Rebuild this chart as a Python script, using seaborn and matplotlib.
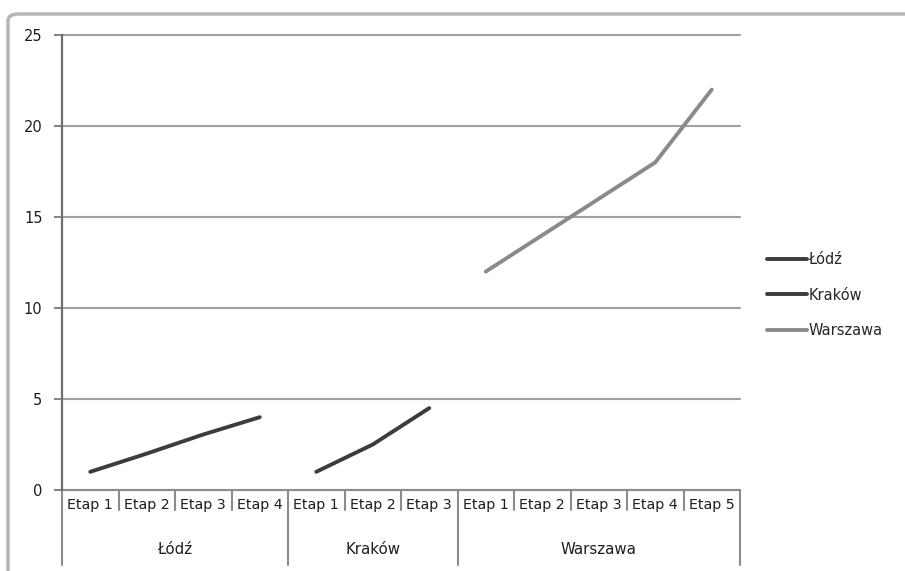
import pandas as pd
import seaborn as sns
import matplotlib.pyplot as plt
from matplotlib.patches import FancyBboxPatch
from matplotlib.transforms import blended_transform_factory

sns.set_theme(style="white")
plt.rcParams["font.family"] = ["DejaVu Sans"]

# --- data ---
cities = ["Łódź", "Kraków", "Warszawa"]
stages = {
    "Łódź": ["Etap 1", "Etap 2", "Etap 3", "Etap 4"],
    "Kraków": ["Etap 1", "Etap 2", "Etap 3"],
    "Warszawa": ["Etap 1", "Etap 2", "Etap 3", "Etap 4", "Etap 5"],
}
lodz_vals = [1, 2, 3.05, 4]
krakow_vals = [1, 2.5, 4.5]
warszawa_vals = [12, 14, 16, 18, 22]
y_ticks = [0, 5, 10, 15, 20, 25]

values = {"Łódź": lodz_vals, "Kraków": krakow_vals, "Warszawa": warszawa_vals}
colors = {"Łódź": "#3c3c3c", "Kraków": "#3c3c3c", "Warszawa": "#8a8a8a"}
text_col = "#1e1e1e"

rows = []
pos = 0
group_edges = [-0.5]
for city in cities:
    for stage, v in zip(stages[city], values[city]):
        rows.append({"pos": pos, "stage": stage, "city": city, "value": v})
        pos += 1
    group_edges.append(pos - 0.5)
df = pd.DataFrame(rows)

fig = plt.figure(figsize=(9.05, 5.71), dpi=100)
ax = fig.add_axes([62 / 905, 1 - 490 / 571, 678 / 905, 455 / 571])

sns.lineplot(data=df, x="pos", y="value", hue="city", palette=colors,
             linewidth=2.8, ax=ax, legend=False)

ax.set_xlim(-0.5, len(df) - 0.5)
ax.set_ylim(0, 25)
ax.set_yticks(y_ticks)
ax.set_yticklabels([str(t) for t in y_ticks], fontsize=10.5, color=text_col)
ax.set_xticks([])
ax.set_xlabel("")
ax.set_ylabel("")
ax.grid(axis="y", color="#a0a0a0", linewidth=1.5)
for gl in ax.get_ygridlines():
    gl.set_clip_on(False)
ax.set_axisbelow(True)
for side in ["top", "right", "bottom"]:
    ax.spines[side].set_visible(False)
ax.spines["left"].set_color("#6e6e6e")
ax.spines["left"].set_linewidth(1.6)
ax.tick_params(axis="y", which="major", left=True, length=6, width=1.2,
               color="#6e6e6e", pad=8)

# --- multi-level category axis ---
trans = blended_transform_factory(ax.transData, ax.transAxes)
sep_col = "#8c8c8c"
for i, r in df.iterrows():
    ax.text(r["pos"], -0.032, r["stage"], transform=trans, ha="center",
            va="center", fontsize=10.3, color=text_col)
for k in range(len(df) + 1):
    x = k - 0.5
    bottom = -0.165 if x in group_edges else -0.045
    ax.plot([x, x], [0, bottom], transform=trans, color=sep_col,
            linewidth=1.5, clip_on=False)
for city, a, b in zip(cities, group_edges[:-1], group_edges[1:]):
    ax.text((a + b) / 2, -0.13, city, transform=trans, ha="center",
            va="center", fontsize=10.8, color=text_col)
ax.plot([-0.5, len(df) - 0.5], [0, 0], transform=trans, color=sep_col,
        linewidth=1.5, clip_on=False)

# --- legend ---
handles = [plt.Line2D([], [], color=colors[c], linewidth=2.8) for c in cities]
fig.legend(handles, cities, loc="center left",
           bbox_to_anchor=(767 / 905, 1 - 295 / 571), frameon=False,
           borderpad=0, borderaxespad=0, fontsize=10.5, handlelength=2.75,
           handletextpad=0.1, labelspacing=1.4)

# chart area frame (right side runs off the picture)
frame = FancyBboxPatch((8 / 905, -0.05), 1.05, 1 - 14 / 571 + 0.05,
                       boxstyle="round,pad=0,rounding_size=0.012",
                       transform=fig.transFigure, facecolor="none",
                       edgecolor="#b5b5b5", linewidth=2.5, clip_on=False)
fig.patches.append(frame)

fig.savefig("out.png", dpi=100)
